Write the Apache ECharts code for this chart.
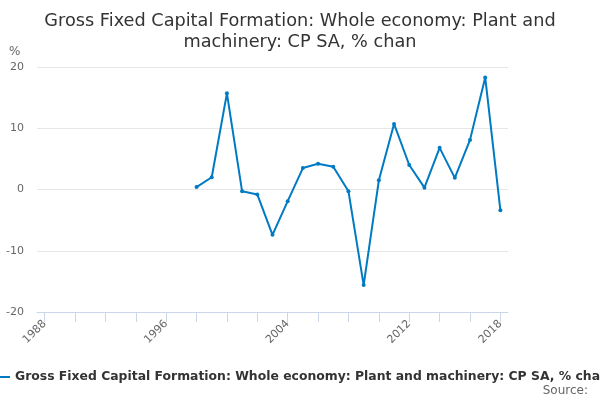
<!DOCTYPE html>
<html><head><meta charset="utf-8">
<script src="https://cdn.jsdelivr.net/npm/echarts@6/dist/echarts.min.js"></script>
<style>html,body{margin:0;padding:0;background:#fff}#c{width:600px;height:400px}</style>
</head><body><div id="c"></div>
<script>
const years = [];
for (let y = 1988; y <= 2018; y++) years.push(String(y));
const seriesName = 'Gross Fixed Capital Formation: Whole economy: Plant and machinery: CP SA, % chan';
const values = [null,null,null,null,null,null,null,null,null,null,
  0.4, 2.0, 15.7, -0.3, -0.8, -7.4, -1.9, 3.5, 4.2, 3.7,
  -0.3, -15.6, 1.5, 10.7, 4.0, 0.3, 6.8, 1.9, 8.1, 18.3, -3.4];
const yTicks = [-20, -10, 0, 10, 20];
const labelYears = ['1988','1996','2004','2012','2018'];

const chart = echarts.init(document.getElementById('c'));
chart.setOption({
  animation: false,
  textStyle: {fontFamily: 'DejaVu Sans'},
  title: {
    text: 'Gross Fixed Capital Formation: Whole economy: Plant and\nmachinery: CP SA, % chan',
    left: 'center', top: 6,
    textStyle: {fontSize: 17.7, fontWeight: 'normal', color: '#333', lineHeight: 21, fontFamily: 'DejaVu Sans'}
  },
  graphic: [
    {type: 'text', left: 9, top: 46, style: {text: '%', fontSize: 12, fill: '#666', fontFamily: 'DejaVu Sans'}},
    {type: 'text', right: 12, top: 385, style: {text: 'Source:', fontSize: 12, fill: '#666', fontFamily: 'DejaVu Sans'}}
  ],
  legend: {
    left: -11, top: 366,
    itemWidth: 16, itemHeight: 10, itemGap: 20,
    icon: 'path://M0,4 L16,4 L16,6 L0,6 Z',
    textStyle: {fontSize: 12.4, fontWeight: 'bold', color: '#333', fontFamily: 'DejaVu Sans'},
    data: [seriesName]
  },
  grid: {left: 37, right: 92, top: 67, bottom: 88, containLabel: false},
  xAxis: {
    type: 'category', data: years, boundaryGap: true,
    axisLine: {show: true, onZero: false, lineStyle: {color: '#ccd6eb', width: 1}},
    axisTick: {show: true, alignWithLabel: true, interval: 1, length: 10, lineStyle: {color: '#ccd6eb', width: 1}},
    axisLabel: {
      rotate: 45, fontSize: 11, color: '#666', margin: 10,
      interval: (i, v) => labelYears.includes(v)
    },
    splitLine: {show: false}
  },
  yAxis: {
    type: 'value', min: yTicks[0], max: yTicks[yTicks.length-1], interval: 10,
    axisLine: {show: false}, axisTick: {show: false},
    axisLabel: {fontSize: 11, color: '#666', margin: 13},
    splitLine: {lineStyle: {color: '#e6e6e6'}}
  },
  series: [{
    name: seriesName, type: 'line', data: values,
    connectNulls: false,
    symbol: 'circle', symbolSize: 4, showSymbol: true,
    lineStyle: {color: '#007ac3', width: 2},
    itemStyle: {color: '#007ac3'}
  }]
});
</script></body></html>
